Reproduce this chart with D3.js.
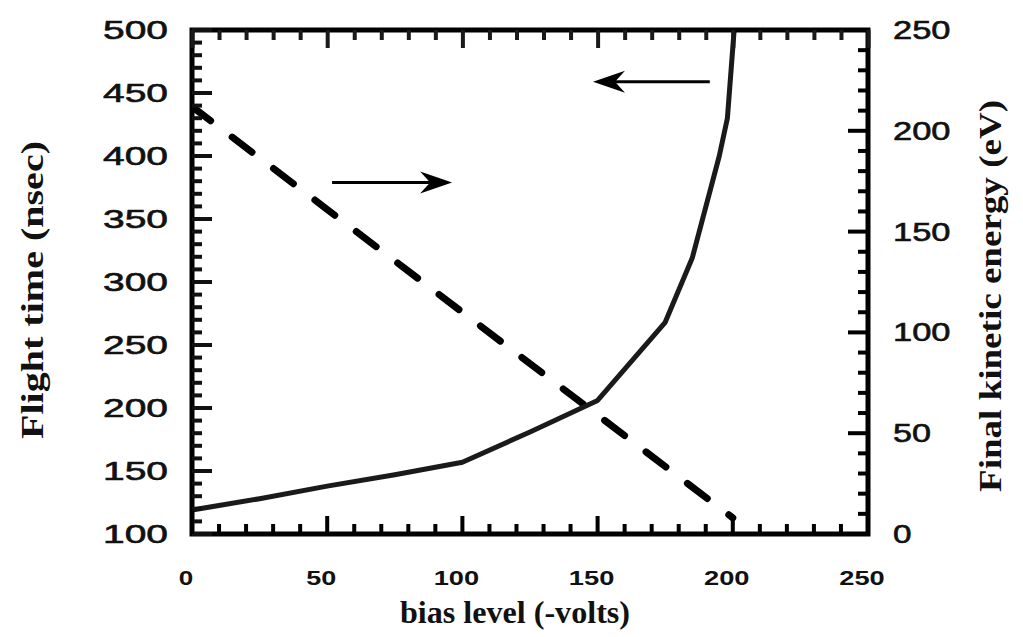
<!DOCTYPE html>
<meta charset="utf-8">
<title>Flight time and final kinetic energy vs bias level</title>
<style>
    body { margin: 0; background: #fff; }
    svg { display: block; }
    .tick-label { font-family: "Liberation Sans", Arial, sans-serif; fill: #111; }
    .title { font-family: "Liberation Serif", "Times New Roman", serif; font-weight: bold; fill: #111; }
</style>

<svg width="1023" height="637"></svg>

<script src="https://d3js.org/d3.v7.min.js"></script>
<script>

    // bias level (-volts) vs flight time (nsec), left axis
    var biasFlight = [0, 25, 50, 75, 100, 125, 150, 175, 185, 195, 198, 200.5];
    var flightTime = [119, 128, 138, 147, 157, 181, 206, 268, 319, 400, 430, 500];

    // bias level (-volts) vs final kinetic energy (eV), right axis
    var biasEnergy = [1, 50, 100, 150, 200];
    var kineticEnergy = [211, 161, 110, 59, 8];

    var xTicks = [0, 50, 100, 150, 200, 250];
    var leftTicks = [100, 150, 200, 250, 300, 350, 400, 450, 500];
    var rightTicks = [0, 50, 100, 150, 200, 250];

    // annotation arrows: [x1, x2, y] in data units (y on left axis)
    var arrowToLeft = [191.5, 148.3, 459];
    var arrowToRight = [51.8, 96.2, 379];

    var svg = d3.select("svg");

    var pL = 192, pR = 868, pT = 30, pB = 534;

    var x = d3.scaleLinear().domain([0, 250]).range([pL, pR]);
    var yL = d3.scaleLinear().domain([100, 500]).range([pB, pT]);
    var yR = d3.scaleLinear().domain([0, 250]).range([pB, pT]);

    function minorOf(scale) {
        var d = scale.domain();
        return d3.range(d[0], d[1] + 0.1, 10).filter(function (v) { return v % 50 !== 0; });
    }

    // right ticks: lines, drawn first
    svg.append("g").selectAll("line")
        .data(minorOf(yR).map(function (v) { return [v, 10]; })
            .concat(rightTicks.map(function (v) { return [v, 20]; })))
        .enter().append("line")
        .attr("x1", pR).attr("x2", function (d) { return pR - d[1]; })
        .attr("y1", function (d) { return yR(d[0]); })
        .attr("y2", function (d) { return yR(d[0]); })
        .attr("stroke", "#000")
        .attr("stroke-width", 4);

    // data lines
    var flightPts = biasFlight.map(function (b, i) { return [b, flightTime[i]]; });
    var energyPts = biasEnergy.map(function (b, i) { return [b, kineticEnergy[i]]; });

    svg.append("path")
        .datum(energyPts)
        .attr("fill", "none")
        .attr("stroke", "#000")
        .attr("stroke-width", 7)
        .attr("stroke-linecap", "round")
        .attr("stroke-dasharray", "25,27")
        .attr("stroke-dashoffset", 5)
        .attr("d", d3.line()
            .x(function (d) { return x(d[0]); })
            .y(function (d) { return yR(d[1]); }));

    svg.append("path")
        .datum(flightPts)
        .attr("fill", "none")
        .attr("stroke", "#1a1a1a")
        .attr("stroke-width", 5)
        .attr("stroke-linejoin", "round")
        .attr("d", d3.line()
            .x(function (d) { return x(d[0]); })
            .y(function (d) { return yL(d[1]); }));

    // frame
    svg.append("rect")
        .attr("x", pL).attr("y", pT)
        .attr("width", pR - pL).attr("height", pB - pT)
        .attr("fill", "none")
        .attr("stroke", "#000")
        .attr("stroke-width", 5);

    // left ticks: filled rects
    svg.append("g").attr("fill", "#111").selectAll("rect")
        .data(minorOf(yL).map(function (v) { return [v, 10]; })
            .concat(leftTicks.map(function (v) { return [v, 20]; })))
        .enter().append("rect")
        .attr("x", pL)
        .attr("y", function (d) { return yL(d[0]) - 2; })
        .attr("width", function (d) { return d[1]; })
        .attr("height", 4);

    // top ticks: d3 axis
    svg.append("g")
        .attr("transform", "translate(0," + pT + ")")
        .call(d3.axisTop(x).tickValues(minorOf(x)).tickSize(-10).tickFormat(""))
        .call(function (g) { g.select(".domain").remove(); })
        .selectAll("line").attr("stroke", "#1a1a1a").attr("stroke-width", 4);
    svg.append("g")
        .attr("transform", "translate(0," + pT + ")")
        .call(d3.axisTop(x).tickValues(xTicks).tickSize(-18).tickFormat(""))
        .call(function (g) { g.select(".domain").remove(); })
        .selectAll("line").attr("stroke", "#1a1a1a").attr("stroke-width", 4);

    // tick labels
    svg.append("g").selectAll("text")
        .data(xTicks)
        .enter().append("text")
        .attr("class", "tick-label")
        .attr("x", function (v) { return x(v) - 6; })
        .attr("y", 585)
        .attr("text-anchor", "middle")
        .attr("font-size", 21)
        .attr("font-weight", "bold")
        .attr("textLength", function (v) { return String(v).length * 15.5 - 1; })
        .attr("lengthAdjust", "spacingAndGlyphs")
        .text(function (v) { return v; });

    svg.append("g").selectAll("text")
        .data(leftTicks)
        .enter().append("text")
        .attr("class", "tick-label")
        .attr("x", 168)
        .attr("y", function (v) { return yL(v) + 9; })
        .attr("text-anchor", "end")
        .attr("font-size", 25)
        .attr("stroke", "#111")
        .attr("stroke-width", 0.6)
        .attr("textLength", function (v) { return String(v).length * 22 - 1; })
        .attr("lengthAdjust", "spacingAndGlyphs")
        .text(function (v) { return v; });

    svg.append("g").selectAll("text")
        .data(rightTicks)
        .enter().append("text")
        .attr("class", "tick-label")
        .attr("x", 893)
        .attr("y", function (v) { return yR(v) + 9; })
        .attr("text-anchor", "start")
        .attr("font-size", 25)
        .attr("stroke", "#111")
        .attr("stroke-width", 0.6)
        .attr("textLength", function (v) { return String(v).length * 19.5 - 1; })
        .attr("lengthAdjust", "spacingAndGlyphs")
        .text(function (v) { return v; });

    // axis titles
    svg.append("text")
        .attr("class", "title")
        .attr("x", 515).attr("y", 623)
        .attr("text-anchor", "middle")
        .attr("font-size", 32)
        .attr("textLength", 230)
        .attr("lengthAdjust", "spacingAndGlyphs")
        .text("bias level (-volts)");

    svg.append("text")
        .attr("class", "title")
        .attr("transform", "translate(43,290) rotate(-90)")
        .attr("text-anchor", "middle")
        .attr("font-size", 32)
        .attr("textLength", 298)
        .attr("lengthAdjust", "spacingAndGlyphs")
        .text("Flight time (nsec)");

    svg.append("text")
        .attr("class", "title")
        .attr("transform", "translate(1001,296) rotate(-90)")
        .attr("text-anchor", "middle")
        .attr("font-size", 32)
        .attr("textLength", 392)
        .attr("lengthAdjust", "spacingAndGlyphs")
        .text("Final kinetic energy (eV)");

    // arrows pointing to each curve's axis
    function arrow(a) {
        var x1 = x(a[0]), x2 = x(a[1]), y = yL(a[2]);
        var dir = x2 > x1 ? 1 : -1;
        svg.append("line")
            .attr("x1", x1).attr("x2", x2 - dir * 20)
            .attr("y1", y).attr("y2", y)
            .attr("stroke", "#000")
            .attr("stroke-width", 3);
        svg.append("path")
            .attr("d", "M" + x2 + "," + y +
                "L" + (x2 - dir * 32) + "," + (y - 11) +
                "L" + (x2 - dir * 22) + "," + y +
                "L" + (x2 - dir * 32) + "," + (y + 11) + "Z")
            .attr("fill", "#000");
    }
    arrow(arrowToLeft);
    arrow(arrowToRight);

    // bottom ticks: one path, drawn last
    var bottomD = minorOf(x).map(function (v) { return "M" + x(v) + "," + pB + "V" + (pB - 10); }).join("") +
        xTicks.map(function (v) { return "M" + x(v) + "," + pB + "V" + (pB - 18); }).join("");
    svg.append("path")
        .attr("d", bottomD)
        .attr("fill", "none")
        .attr("stroke", "#000")
        .attr("stroke-width", 4);

</script>
